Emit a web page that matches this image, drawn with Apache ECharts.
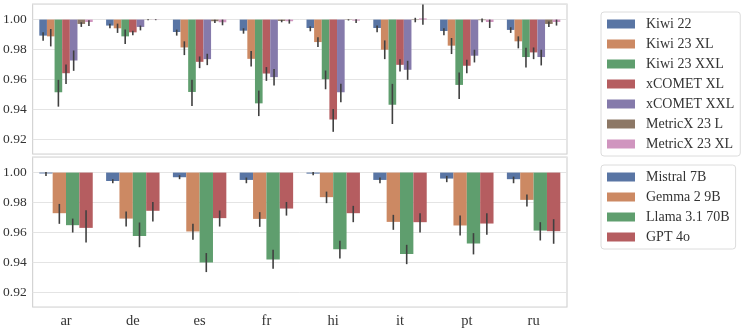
<!DOCTYPE html>
<html><head><meta charset="utf-8">
<script src="https://cdn.jsdelivr.net/npm/echarts@6/dist/echarts.min.js"></script>
<style>html,body{margin:0;padding:0;background:#fff}#c{width:748px;height:331px}</style>
</head><body><div id="c"></div>
<script>
const categories = ['ar','de','es','fr','hi','it','pt','ru'];
const topNames = ['Kiwi 22','Kiwi 23 XL','Kiwi 23 XXL','xCOMET XL','xCOMET XXL','MetricX 23 L','MetricX 23 XL'];
const bottomNames = ['Mistral 7B','Gemma 2 9B','Llama 3.1 70B','GPT 4o'];
const topColors = ['#5975a4','#cc8963','#5f9e6e','#b55d60','#857aab','#8d7866','#d095bf'];
const bottomColors = ['#5975a4','#cc8963','#5f9e6e','#b55d60'];

// top panel (metrics): means and [lo, hi] intervals
const kiwi22 = [0.9893,0.9960,0.9917,0.9926,0.9944,0.9944,0.9924,0.9931];
const kiwi22Ci = [[0.9859,0.9915],[0.9942,0.9973],[0.9893,0.9933],[0.9906,0.9942],[0.9922,0.9955],[0.9915,0.9960],[0.9895,0.9942],[0.9911,0.9949]];
const kiwi23xl = [0.9888,0.9942,0.9814,0.9738,0.9850,0.9799,0.9826,0.9855];
const kiwi23xlCi = [[0.9821,0.9937],[0.9911,0.9973],[0.9763,0.9855],[0.9687,0.9790],[0.9817,0.9882],[0.9736,0.9861],[0.9770,0.9877],[0.9808,0.9888]];
const kiwi23xxl = [0.9515,0.9888,0.9517,0.9441,0.9602,0.9432,0.9564,0.9750];
const kiwi23xxlCi = [[0.9419,0.9598],[0.9837,0.9933],[0.9423,0.9598],[0.9356,0.9526],[0.9535,0.9660],[0.9303,0.9571],[0.9470,0.9647],[0.9680,0.9812]];
const xcometXl = [0.9642,0.9915,0.9718,0.9640,0.9334,0.9698,0.9692,0.9781];
const xcometXlCi = [[0.9570,0.9700],[0.9895,0.9926],[0.9676,0.9754],[0.9591,0.9683],[0.9251,0.9403],[0.9654,0.9736],[0.9642,0.9732],[0.9736,0.9814]];
const xcometXxl = [0.9727,0.9951,0.9736,0.9616,0.9515,0.9665,0.9759,0.9750];
const xcometXxlCi = [[0.9658,0.9794],[0.9928,0.9960],[0.9696,0.9772],[0.9560,0.9671],[0.9448,0.9571],[0.9598,0.9725],[0.9714,0.9799],[0.9694,0.9799]];
const metricxL = [0.9971,0.9999,0.9989,0.9991,0.9998,0.9997,0.9996,0.9971];
const metricxLCi = [[0.9951,0.9982],[0.9996,1.0002],[0.9978,0.9999],[0.9982,0.9998],[0.9994,1.0002],[0.9982,1.0012],[0.9982,1.0007],[0.9951,0.9987]];
const metricxXl = [0.9984,0.9999,0.9982,0.9989,0.9993,1.0008,0.9984,0.9984];
const metricxXlCi = [[0.9958,0.9996],[0.9996,1.0002],[0.9962,1.0000],[0.9973,1.0000],[0.9978,1.0002],[0.9966,1.0101],[0.9944,1.0000],[0.9960,1.0000]];

// bottom panel (LLMs)
const mistral7b = [0.9994,0.9944,0.9969,0.9951,0.9993,0.9951,0.9960,0.9956];
const mistral7bCi = [[0.9978,1.0004],[0.9929,0.9956],[0.9956,0.9982],[0.9929,0.9967],[0.9982,1.0004],[0.9929,0.9967],[0.9936,0.9978],[0.9929,0.9973]];
const gemma9b = [0.9729,0.9693,0.9607,0.9691,0.9836,0.9671,0.9647,0.9818];
const gemma9bCi = [[0.9658,0.9791],[0.9640,0.9740],[0.9551,0.9658],[0.9638,0.9736],[0.9796,0.9873],[0.9618,0.9718],[0.9580,0.9713],[0.9774,0.9853]];
const llama70b = [0.9649,0.9576,0.9400,0.9420,0.9489,0.9456,0.9527,0.9613];
const llama70bCi = [[0.9600,0.9693],[0.9502,0.9667],[0.9336,0.9463],[0.9358,0.9485],[0.9427,0.9545],[0.9389,0.9518],[0.9454,0.9596],[0.9547,0.9669]];
const gpt4o = [0.9631,0.9745,0.9696,0.9760,0.9729,0.9669,0.9660,0.9609];
const gpt4oCi = [[0.9533,0.9749],[0.9673,0.9804],[0.9640,0.9747],[0.9713,0.9804],[0.9669,0.9778],[0.9600,0.9729],[0.9585,0.9729],[0.9525,0.9689]];

const yTicks = [0.92,0.94,0.96,0.98,1.00];
const yMin = 0.9103, yMax = 1.0104, baseline = 1.0;

const topSeries = [[kiwi22,kiwi22Ci],[kiwi23xl,kiwi23xlCi],[kiwi23xxl,kiwi23xxlCi],[xcometXl,xcometXlCi],[xcometXxl,xcometXxlCi],[metricxL,metricxLCi],[metricxXl,metricxXlCi]];
const bottomSeries = [[mistral7b,mistral7bCi],[gemma9b,gemma9bCi],[llama70b,llama70bCi],[gpt4o,gpt4oCi]];

const FONT = '"Liberation Serif", "DejaVu Serif", serif';

function makeRender(k, n, color) {
  return function (params, api) {
    const ci = api.value(0), v = api.value(1), lo = api.value(2), hi = api.value(3);
    const p0 = api.coord([ci, baseline]);
    const p1 = api.coord([ci, v]);
    const cw = api.size([1, 0])[0];
    const bw = cw * 0.8 / n;
    const x = p0[0] - cw * 0.4 + k * bw;
    const cx = x + bw / 2;
    const pl = api.coord([ci, lo]), ph = api.coord([ci, hi]);
    return {type: 'group', children: [
      {type: 'rect', shape: {x: x, y: Math.min(p0[1], p1[1]), width: bw, height: Math.abs(p1[1] - p0[1])},
       style: {fill: color}},
      {type: 'line', shape: {x1: cx, y1: pl[1], x2: cx, y2: ph[1]},
       style: {stroke: '#404040', lineWidth: 1.6}}
    ]};
  };
}

function buildSeries(list, names, colors, axisIdx) {
  return list.map(([means, cis], k) => ({
    type: 'custom', name: names[k], xAxisIndex: axisIdx, yAxisIndex: axisIdx,
    itemStyle: {color: colors[k]},
    renderItem: makeRender(k, list.length, colors[k]),
    encode: {x: 0, y: 1},
    clip: true,
    data: means.map((m, i) => [i, m, cis[i][0], cis[i][1]])
  }));
}

function yAxis(idx) {
  return {type: 'value', gridIndex: idx, min: yMin, max: yMax,
    axisLine: {show: false}, axisTick: {show: false},
    splitLine: {lineStyle: {color: '#e4e4e4', width: 1}},
    axisLabel: {showMinLabel: false, showMaxLabel: false, margin: 6,
      fontFamily: FONT, fontSize: 13.5, color: '#333',
      formatter: v => yTicks.some(t => Math.abs(t - v) < 1e-6) ? v.toFixed(2) : ''}};
}

function xAxis(idx, show) {
  return {type: 'category', gridIndex: idx, data: categories,
    axisLine: {show: false}, axisTick: {show: false}, splitLine: {show: false},
    axisLabel: {show: show, margin: 7, fontFamily: FONT, fontSize: 14.5, color: '#333'}};
}

const legendBase = {orient: 'vertical', left: 601, icon: 'rect', itemWidth: 28, itemHeight: 9,
  itemGap: 6, borderColor: '#dcdcdc', borderWidth: 1, borderRadius: 3,
  backgroundColor: '#fff',
  textStyle: {fontFamily: FONT, fontSize: 14, color: '#333', lineHeight: 14, padding: [0, 0, 0, 6]},
  selectedMode: false};

const chart = echarts.init(document.getElementById('c'), null, {renderer: 'canvas'});
chart.setOption({
  animation: false,
  backgroundColor: '#fff',
  textStyle: {fontFamily: FONT},
  grid: [
    {left: 32, right: 181, top: 4, height: 150, show: true, borderColor: '#d4d4d4', borderWidth: 1.2},
    {left: 32, right: 181, top: 157, height: 150, show: true, borderColor: '#d4d4d4', borderWidth: 1.2}
  ],
  xAxis: [xAxis(0, false), xAxis(1, true)],
  yAxis: [yAxis(0), yAxis(1)],
  legend: [
    Object.assign({}, legendBase, {top: 12, padding: [5, 6, 5, 6], data: topNames}),
    Object.assign({}, legendBase, {top: 165, padding: [5, 6, 5, 6], data: bottomNames})
  ],
  series: buildSeries(topSeries, topNames, topColors, 0).concat(buildSeries(bottomSeries, bottomNames, bottomColors, 1))
});
</script></body></html>
